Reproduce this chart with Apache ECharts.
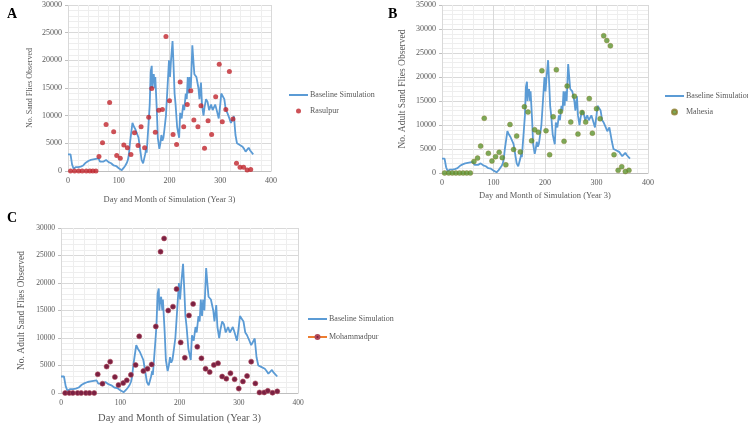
<!DOCTYPE html>
<html><head><meta charset="utf-8">
<script src="https://cdn.jsdelivr.net/npm/echarts@6/dist/echarts.min.js"></script>
<style>html,body{margin:0;padding:0;background:#fff}#c{width:748px;height:425px}</style>
</head><body><div id="c"></div>
<script>
// Baseline simulation [day, flies]
const baselineDays = [0,5,8,11,15,20,25,30,35,40,45,50,55,60,63,66,70,75,80,85,90,95,100,103,106,108,110,113,116,118,120,122,124,127,130,133,136,139,142,145,148,150,152,154,155,157,159,161,163,165,166,167,169,171,172,174,175,177,180,182,184,186,188,190,193,196,199,201,203,206,208,210,212,215,219,221,224,227,229,232,234,236,238,240,242,245,247,249,253,257,259,262,264,267,269,272,275,278,282,285,290,293,297,300,302,305,308,311,314,318,321,325,327,330,333,337,340,344,347,350,352,356,359,362,365];
const baselineVals = [3000,3000,1200,400,700,700,800,1000,1500,1800,2000,2100,2200,2300,1700,1500,1700,2000,1600,1400,1000,900,500,300,150,100,600,1000,1500,2000,3000,5000,6500,8700,8000,7500,7200,6000,4000,2000,1400,2200,3000,4000,3300,3500,9000,12000,18000,19000,15000,16500,17500,15000,17000,13000,11000,6000,4000,5000,6500,5500,6000,7500,10000,15000,20000,17000,20000,23500,19000,14000,12000,8000,6000,10500,9500,12000,11000,14000,13000,17000,14000,17000,15000,22700,20000,17500,17000,15000,13000,16000,12000,10000,11500,13000,12500,11000,12000,11000,12000,11000,9500,12000,14000,14200,13000,11000,10500,9500,8700,9500,9900,6500,5000,4800,4700,4400,4000,3500,3200,4200,3700,3500,3000];

// Rasulpur (panel A)
const rasDays = [5,13,21,28,36,43,49,55,61,68,75,82,90,96,103,110,117,124,131,138,144,151,159,165,172,179,186,193,200,207,214,221,228,235,242,248,256,262,269,276,283,291,298,304,311,318,325,332,339,346,353,360];
const rasVals = [0,0,0,0,0,0,0,0,2600,5100,8400,12400,7100,2800,2300,4700,4200,3000,6900,4600,8000,4200,9700,14900,7000,11000,11100,24300,12700,6600,4800,16100,8000,12000,14500,9200,8000,11800,4100,9100,6600,13400,19300,8900,11100,18000,9400,1400,700,700,200,250];

// Mahesia (panel B)
const mahDays = [5,13,20,27,34,41,48,55,62,69,75,82,90,97,104,111,117,124,132,139,145,152,160,167,174,180,187,194,202,209,216,222,230,237,243,250,257,264,272,279,286,292,300,307,314,320,327,334,342,349,356,363];
const mahVals = [0,0,0,0,0,0,0,0,2400,3100,5600,11400,4100,2500,3400,4300,3200,1700,10100,4900,7700,4400,13800,12700,6700,9000,8500,21300,8800,3800,11700,21500,12800,6600,18100,10600,16000,8100,12600,10600,15500,8300,13400,11300,28600,27600,26500,3800,550,1300,300,550];

// Mohammadpur (panel C)
const mohDays = [7,14,20,28,34,42,48,56,62,70,77,83,91,97,105,111,118,126,132,139,146,153,160,168,174,181,189,195,202,209,216,223,230,237,244,251,258,265,272,279,286,293,300,307,314,321,328,335,343,349,357,365];
const mohVals = [0,0,0,0,0,0,0,0,3400,1700,4800,5700,2900,1450,1800,2300,3300,5100,10300,4000,4400,5200,12100,25700,28100,15000,15700,18900,9200,6400,14100,16200,8400,6300,4400,3800,5100,5400,3000,2600,3600,2500,800,2100,3100,5700,1750,100,100,400,50,300];

const pair = (d, v) => d.map((x, i) => [x, v[i]]);
const baseline = pair(baselineDays, baselineVals);

const F = 'Liberation Serif, Times New Roman, serif';
const grey = '#595959';
function xAxis(gi, nameSize, nameGap, labelSize) {
  return {
    gridIndex: gi, type: 'value', min: 0, max: 400, interval: 100,
    name: 'Day and Month of Simulation (Year 3)', nameLocation: 'middle', nameGap: nameGap,
    nameTextStyle: {fontFamily: F, fontSize: nameSize, color: grey},
    axisLine: {lineStyle: {color: '#bfbfbf'}}, axisTick: {show: false},
    axisLabel: {fontFamily: F, fontSize: labelSize, color: grey, margin: 6},
    splitLine: {lineStyle: {color: '#d9d9d9'}},
    minorTick: {show: false, splitNumber: 5},
    minorSplitLine: {show: true, lineStyle: {color: '#eeeeee'}}
  };
}
function yAxis(gi, name, max, nameSize, nameGap, labelSize) {
  return {
    gridIndex: gi, type: 'value', min: 0, max: max, interval: 5000,
    name: name, nameLocation: 'middle', nameGap: nameGap,
    nameTextStyle: {fontFamily: F, fontSize: nameSize, color: grey},
    axisLine: {show: false}, axisTick: {show: true, length: 3, lineStyle: {color: '#bfbfbf'}},
    axisLabel: {fontFamily: F, fontSize: labelSize, color: grey, margin: 6, formatter: v => String(v)},
    splitLine: {lineStyle: {color: '#d9d9d9'}},
    minorTick: {show: false, splitNumber: 5},
    minorSplitLine: {show: true, lineStyle: {color: '#eeeeee'}}
  };
}
function baseSeries(i) {
  return {name: 'Baseline Simulation', type: 'line', xAxisIndex: i, yAxisIndex: i,
    data: baseline, symbol: 'none', lineStyle: {color: '#5b9bd5', width: 1.8}, itemStyle: {color: '#5b9bd5'}, z: 2};
}
const legendText = {fontFamily: F, fontSize: 8, color: grey, padding: [0, 0, 0, -3]};
const hideSym = {opacity: 0};
function legend(left, top, gap, names) {
  return {orient: 'vertical', left: left, top: top, padding: 0, itemWidth: 19, itemHeight: 5, itemGap: gap,
    textStyle: legendText, data: names};
}
const chart = echarts.init(document.getElementById('c'), null, {renderer: 'canvas'});
chart.setOption({
  animation: false,
  title: [
    {text: 'A', left: 2, top: 2, textStyle: {fontFamily: F, fontSize: 14, fontWeight: 'bold', color: '#000'}},
    {text: 'B', left: 383, top: 2, textStyle: {fontFamily: F, fontSize: 14, fontWeight: 'bold', color: '#000'}},
    {text: 'C', left: 2, top: 206, textStyle: {fontFamily: F, fontSize: 14, fontWeight: 'bold', color: '#000'}}
  ],
  grid: [
    {left: 68, top: 5, width: 203, height: 166},
    {left: 442, top: 5, width: 206, height: 168},
    {left: 61, top: 228, width: 237, height: 166}
  ],
  xAxis: [xAxis(0, 8.5, 24, 8), xAxis(1, 8.5, 18, 8), xAxis(2, 10.5, 20, 7.5)],
  yAxis: [
    yAxis(0, 'No. Sand Flies Observed', 30000, 8, 34, 8),
    yAxis(1, 'No. Adult Sand Flies Observed', 35000, 9.5, 35, 8),
    yAxis(2, 'No. Adult Sand Flies Observed', 30000, 9.5, 35, 7.5)
  ],
  legend: [
    legend(288, 91, 8, [{name: 'Baseline Simulation', itemStyle: hideSym}, {name: 'Rasulpur', icon: 'circle'}]),
    legend(664, 92, 8, [{name: 'Baseline Simulation ', itemStyle: hideSym}, {name: 'Mahesia', icon: 'circle'}]),
    legend(307, 315, 10, [{name: 'Baseline Simulation  ', itemStyle: hideSym},
            {name: 'Mohammadpur', lineStyle: {color: '#ed7d31', width: 2, opacity: 1}}])
  ],
  series: [
    baseSeries(0),
    {name: 'Rasulpur', type: 'scatter', xAxisIndex: 0, yAxisIndex: 0, data: pair(rasDays, rasVals),
     symbolSize: 5, itemStyle: {color: '#c0262d'}, z: 3},
    Object.assign(baseSeries(1), {name: 'Baseline Simulation '}),
    {name: 'Mahesia', type: 'scatter', xAxisIndex: 1, yAxisIndex: 1, data: pair(mahDays, mahVals),
     symbolSize: 5, itemStyle: {color: '#5b9330', borderColor: '#8a7a2a', borderWidth: 0.5}, z: 3},
    Object.assign(baseSeries(2), {name: 'Baseline Simulation  '}),
    {name: 'Mohammadpur', type: 'line', xAxisIndex: 2, yAxisIndex: 2, data: pair(mohDays, mohVals),
     symbol: 'circle', symbolSize: 5, showSymbol: true,
     lineStyle: {color: '#ed7d31', width: 2, opacity: 0},
     itemStyle: {color: '#7a2143', borderColor: '#b04a5a', borderWidth: 0.6}, z: 3}
  ]
});
</script></body></html>
